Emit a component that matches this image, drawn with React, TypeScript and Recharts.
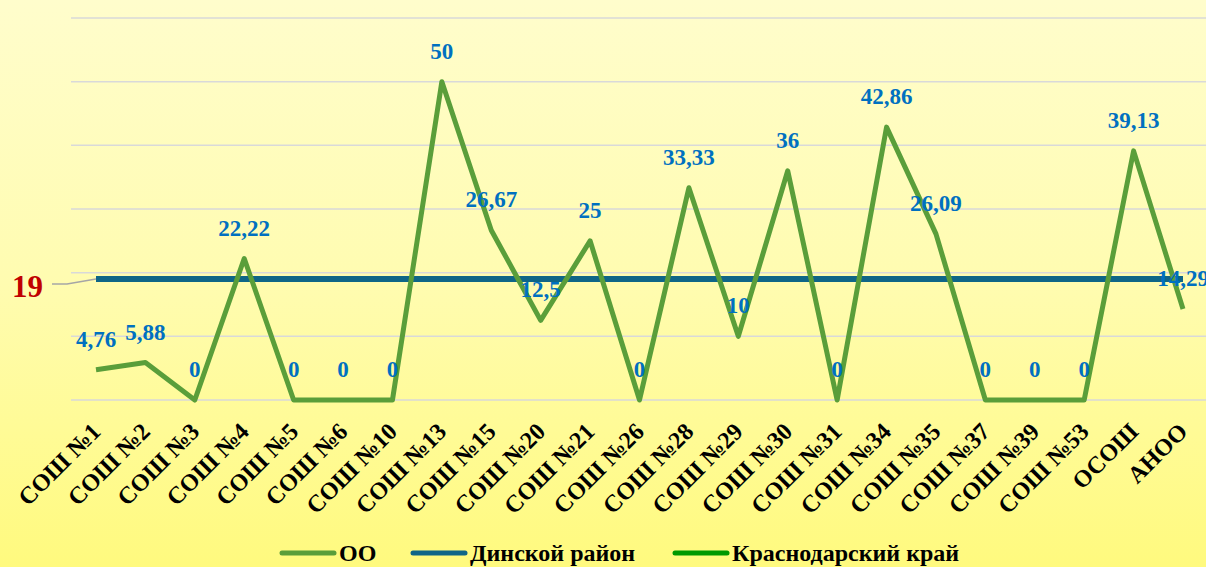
import React from "react";
import { LineChart, Line, XAxis, YAxis, CartesianGrid, Legend, LabelList } from "recharts";

const categories = [
  "СОШ №1", "СОШ №2", "СОШ №3", "СОШ №4", "СОШ №5", "СОШ №6", "СОШ №10", "СОШ №13",
  "СОШ №15", "СОШ №20", "СОШ №21", "СОШ №26", "СОШ №28", "СОШ №29", "СОШ №30", "СОШ №31",
  "СОШ №34", "СОШ №35", "СОШ №37", "СОШ №39", "СОШ №53", "ОСОШ", "АНОО",
];
const ooValues = [4.76, 5.88, 0, 22.22, 0, 0, 0, 50, 26.67, 12.5, 25, 0, 33.33, 10, 36, 0, 42.86, 26.09, 0, 0, 0, 39.13, 14.29];
const dinskoyValue = 19;
const krasnodarValues: (number | null)[] = categories.map(() => null);
const yTicks = [0, 10, 20, 30, 40, 50, 60];

const data = categories.map((name, i) => ({
  name,
  oo: ooValues[i],
  dinskoy: dinskoyValue,
  krai: krasnodarValues[i],
}));

const SERIF = "'Liberation Serif', 'Times New Roman', Tinos, serif";

const fmt = (v: number) => String(v).replace(".", ",");

const OOLabel = (props: any) => {
  const { x, y, value } = props;
  if (value == null) return null;
  return (
    <text x={x} y={y - 23} textAnchor="middle" fill="#0070C0" style={{ fontFamily: SERIF, fontWeight: 700, fontSize: 23 }}>
      {fmt(value)}
    </text>
  );
};

const DinskoyLabel = (props: any) => {
  const { x, y, value, index } = props;
  if (index !== 0) return null;
  return (
    <g>
      <polyline points={`${x - 44},${y + 5} ${x - 29},${y + 5} ${x},${y}`} fill="none" stroke="#A6A6A6" strokeWidth={1.5} />
      <text x={x - 53} y={y + 18} textAnchor="end" fill="#C00000" style={{ fontFamily: SERIF, fontWeight: 700, fontSize: 31 }}>
        {value}
      </text>
    </g>
  );
};

const Tick = (props: any) => {
  const { x, y, payload } = props;
  const ax = x + 6;
  const ay = y + 31;
  return (
    <text
      x={ax}
      y={ay}
      transform={`rotate(-45 ${ax} ${ay})`}
      textAnchor="end"
      fill="#000"
      style={{ fontFamily: SERIF, fontWeight: 700, fontSize: 24 }}
    >
      {payload.value}
    </text>
  );
};

const legendItems = [
  { label: "ОО", color: "#5A9E3A", x: 209 },
  { label: "Динской район", color: "#0F6687", x: 340 },
  { label: "Краснодарский край", color: "#009900", x: 602 },
];

const LegendContent = () => (
  <svg width={1136} height={30} style={{ display: "block" }}>
    {legendItems.map((it) => (
      <g key={it.label}>
        <line x1={it.x + 2} y1={16} x2={it.x + 54} y2={16} stroke={it.color} strokeWidth={5} strokeLinecap="round" />
        <text x={it.x + 59} y={24} fill="#000" style={{ fontFamily: SERIF, fontWeight: 700, fontSize: 24 }}>
          {it.label}
        </text>
      </g>
    ))}
  </svg>
);

export default function App() {
  return (
    <div
      style={{
        position: "absolute",
        left: 0,
        top: 0,
        width: 1206,
        height: 567,
        overflow: "hidden",
        background: "linear-gradient(to bottom, #FFFDCC 0%, #FFFCB0 50%, #FFFA7E 100%)",
      }}
    >
      <LineChart width={1220} height={567} data={data} margin={{ top: 18, right: 13, left: 71, bottom: 0 }}>
        <CartesianGrid vertical={false} stroke="#D9D9D9" strokeWidth={1.5} />
        <XAxis dataKey="name" interval={0} axisLine={false} tickLine={false} tickSize={0} tick={<Tick />} height={137} padding={{ left: 25, right: 24 }} />
        <YAxis hide domain={[0, 60]} ticks={yTicks} />
        <Legend verticalAlign="bottom" height={30} content={<LegendContent />} />
        <Line dataKey="krai" stroke="#009900" strokeWidth={5} dot={false} isAnimationActive={false} />
        <Line dataKey="dinskoy" stroke="#0F6687" strokeWidth={6} dot={false} isAnimationActive={false}>
          <LabelList dataKey="dinskoy" content={<DinskoyLabel />} />
        </Line>
        <Line dataKey="oo" stroke="#5A9E3A" strokeWidth={5} dot={false} strokeLinejoin="round" isAnimationActive={false}>
          <LabelList dataKey="oo" content={<OOLabel />} />
        </Line>
      </LineChart>
    </div>
  );
}
